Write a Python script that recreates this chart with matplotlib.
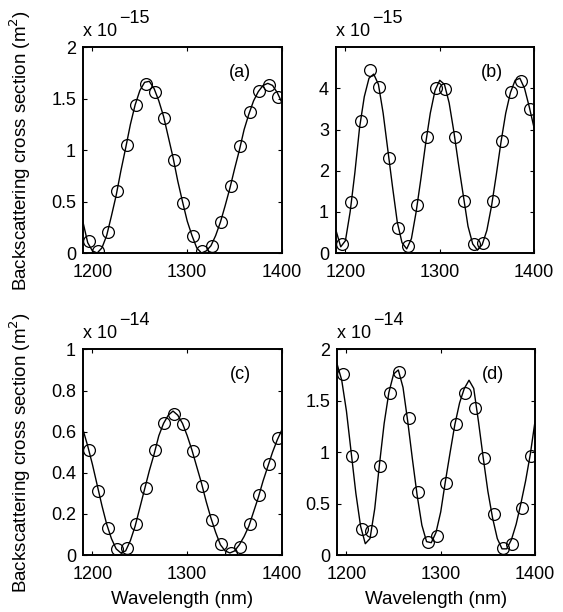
import numpy as np
import matplotlib
matplotlib.use('Agg')
import matplotlib.pyplot as plt

plt.rcParams['font.family'] = ['Liberation Sans', 'DejaVu Sans']
plt.rcParams['font.size'] = 13

# measured points (wavelength in nm)
x_circ = [1196, 1206, 1216, 1226, 1236, 1246, 1256, 1266, 1276, 1286, 1296,
          1306, 1316, 1326, 1336, 1346, 1356, 1366, 1376, 1386, 1396]
a_circ = [0.12, 0.02, 0.20, 0.60, 1.055, 1.44, 1.64, 1.57, 1.31, 0.90, 0.49,
          0.165, 0.02, 0.07, 0.30, 0.65, 1.04, 1.37, 1.58, 1.63, 1.52]
b_circ = [0.21, 1.23, 3.20, 4.46, 4.03, 2.30, 0.61, 0.17, 1.17, 2.83, 4.00,
          3.99, 2.83, 1.27, 0.23, 0.245, 1.27, 2.72, 3.91, 4.19, 3.50]
c_circ = [0.509, 0.312, 0.13, 0.028, 0.033, 0.151, 0.325, 0.509, 0.642, 0.686, 0.639,
          0.507, 0.337, 0.171, 0.054, 0.008, 0.04, 0.151, 0.293, 0.442, 0.569]
d_circ = [1.757, 0.961, 0.25, 0.233, 0.867, 1.58, 1.78, 1.333, 0.609, 0.129, 0.184,
          0.696, 1.279, 1.58, 1.43, 0.945, 0.395, 0.065, 0.107, 0.46, 0.961]

# fitted curves, read every 5 nm
x_fit = [1190, 1195, 1200, 1205, 1210, 1215, 1220, 1225, 1230, 1235, 1240,
         1245, 1250, 1255, 1260, 1265, 1270, 1275, 1280, 1285, 1290, 1295,
         1300, 1305, 1310, 1315, 1320, 1325, 1330, 1335, 1340, 1345, 1350,
         1355, 1360, 1365, 1370, 1375, 1380, 1385, 1390, 1395, 1400]
a_fit = [0.30, 0.10, 0.02, 0.00, 0.05, 0.17, 0.36, 0.56, 0.80, 1.02, 1.25,
         1.44, 1.58, 1.66, 1.67, 1.60, 1.48, 1.33, 1.13, 0.93, 0.70, 0.50,
         0.31, 0.17, 0.05, 0.00, 0.02, 0.07, 0.17, 0.30, 0.46, 0.63, 0.82,
         1.00, 1.20, 1.35, 1.48, 1.57, 1.63, 1.65, 1.63, 1.56, 1.46]
b_fit = [0.55, 0.15, 0.30, 1.00, 1.95, 3.05, 3.80, 4.25, 4.35, 4.10, 3.40,
         2.50, 1.60, 0.75, 0.25, 0.10, 0.35, 1.00, 1.80, 2.65, 3.40, 3.95,
         4.20, 4.10, 3.65, 2.95, 2.15, 1.40, 0.65, 0.22, 0.07, 0.20, 0.55,
         1.15, 1.90, 2.70, 3.40, 3.90, 4.20, 4.25, 4.00, 3.55, 3.05]
c_fit = [0.61, 0.53, 0.44, 0.34, 0.24, 0.15, 0.08, 0.03, 0.01, 0.02, 0.07,
         0.14, 0.23, 0.32, 0.41, 0.49, 0.58, 0.64, 0.68, 0.70, 0.68, 0.64,
         0.58, 0.51, 0.43, 0.35, 0.26, 0.18, 0.11, 0.05, 0.02, 0.01, 0.02,
         0.05, 0.09, 0.14, 0.21, 0.28, 0.36, 0.43, 0.50, 0.56, 0.61]
d_fit = [1.86, 1.70, 1.40, 1.00, 0.60, 0.28, 0.11, 0.16, 0.45, 0.88, 1.28,
         1.58, 1.76, 1.80, 1.63, 1.30, 0.93, 0.58, 0.29, 0.13, 0.12, 0.22,
         0.42, 0.72, 1.00, 1.27, 1.48, 1.62, 1.70, 1.62, 1.30, 0.95, 0.62,
         0.36, 0.16, 0.06, 0.06, 0.15, 0.30, 0.50, 0.72, 0.98, 1.30]

panels = ['(a)', '(b)', '(c)', '(d)']
exps = ['\u221215', '\u221215', '\u221214', '\u221214']
ylims = [2, 5, 1, 2]
yticks = [[0, 0.5, 1, 1.5, 2], [0, 1, 2, 3, 4], [0, 0.2, 0.4, 0.6, 0.8, 1],
          [0, 0.5, 1, 1.5, 2]]
yticklabels = [['0', '0.5', '1', '1.5', '2'], ['0', '1', '2', '3', '4'],
               ['0', '0.2', '0.4', '0.6', '0.8', '1'], ['0', '0.5', '1', '1.5', '2']]
circs = [a_circ, b_circ, c_circ, d_circ]
fits = [a_fit, b_fit, c_fit, d_fit]

fig = plt.figure(figsize=(5.63, 6.12), dpi=100)
pos = [[0.1474, 0.5866, 0.3535, 0.336], [0.5968, 0.5866, 0.3517, 0.336],
       [0.1474, 0.0931, 0.3535, 0.336], [0.5986, 0.0931, 0.3517, 0.336]]

for i in range(4):
    ax = fig.add_axes(pos[i])
    ax.plot(x_fit, fits[i], 'k-', lw=1.0)
    ax.plot(x_circ, circs[i], 'o', mfc='none', mec='k', ms=8.5, mew=0.9)
    ax.set_xlim(1190, 1400)
    ax.set_ylim(0, ylims[i])
    ax.set_xticks([1200, 1300, 1400])
    ax.set_yticks(yticks[i])
    ax.set_yticklabels(yticklabels[i])
    ax.tick_params(direction='in', top=True, right=True, length=3, width=0.8,
                   labelsize=13)
    ax.tick_params(axis='x', pad=8)
    ax.tick_params(axis='y', pad=5)
    for s in ax.spines.values():
        s.set_linewidth(1.4)
    ax.text(0.79, 0.88, panels[i], transform=ax.transAxes, ha='center', va='center',
            fontsize=13)
    ax.text(0.0, 1.053, 'x 10', transform=ax.transAxes, ha='left', va='baseline',
            fontsize=13)
    ax.text(0.18, 1.12, exps[i], transform=ax.transAxes, ha='left', va='baseline',
            fontsize=13)
    if i % 2 == 0:
        ax.set_ylabel('Backscattering cross section (m$^2$)', fontsize=13.5)
        ax.yaxis.set_label_coords(-0.25, 0.5)
    if i >= 2:
        ax.set_xlabel('Wavelength (nm)', fontsize=13.5, labelpad=6)

plt.savefig('out.png', dpi=100)
